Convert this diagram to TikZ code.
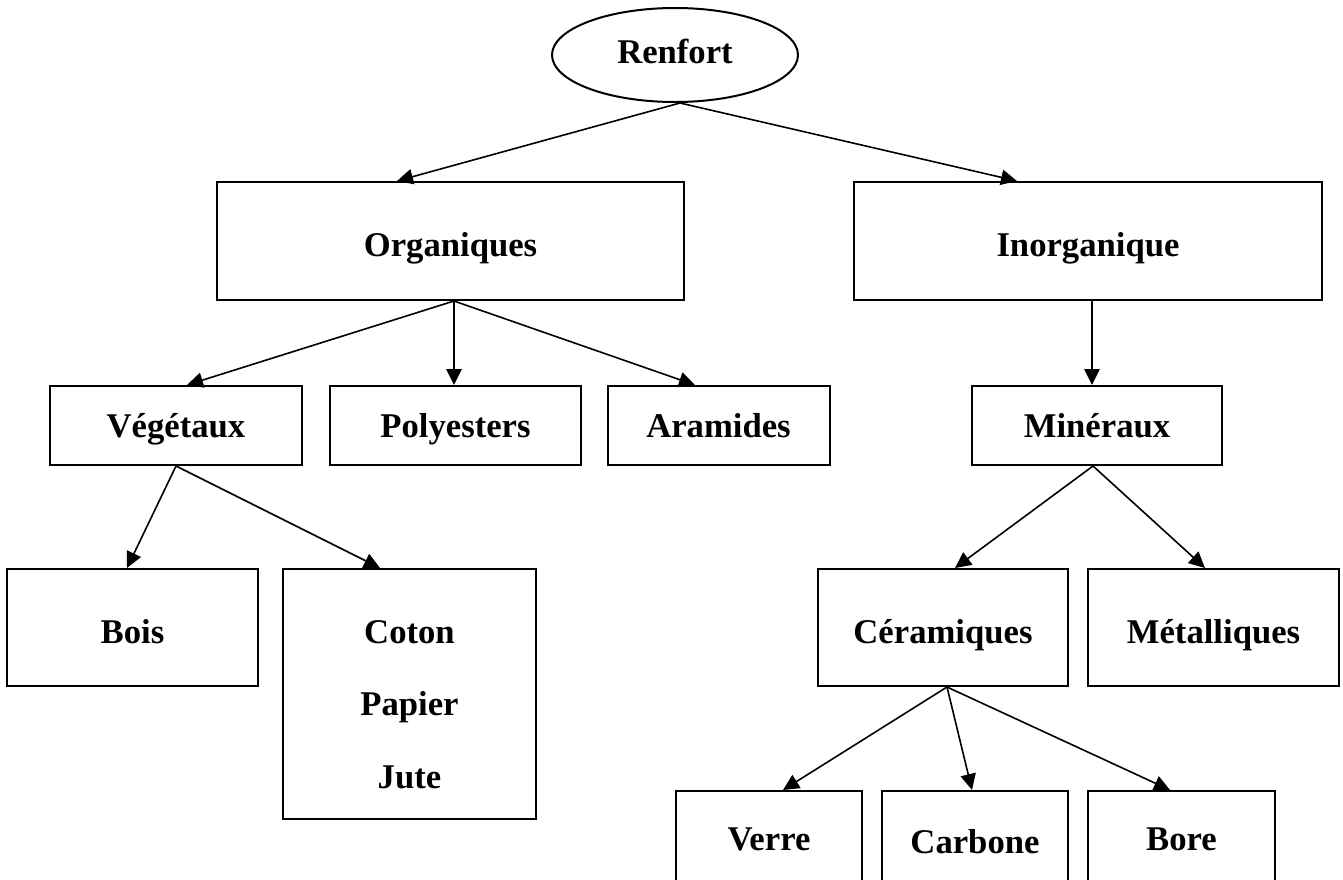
\documentclass[tikz,border=0pt]{standalone}
\usepackage{fontspec}
\setmainfont{Liberation Serif}
\usetikzlibrary{shapes.geometric,arrows.meta}
\begin{document}
\begin{tikzpicture}[x=0.75pt,y=-0.75pt,
  every node/.style={font=\fontsize{26}{54.4}\selectfont\bfseries, inner sep=0pt, text depth=0pt},
  box/.style={draw, line width=1.5pt, rectangle},
  oval/.style={draw, line width=1.5pt, ellipse},
  arr/.style={line width=1.2pt, -{Triangle[length=12pt,width=11.5pt]}}]
% page frame
\useasboundingbox (0,0) rectangle (1343,879);
\clip (0,0) rectangle (1343,879);

% root
\node[oval, minimum width=246*0.75pt, minimum height=94*0.75pt, text height=12pt] (ren) at (675,55) {Renfort};

% first level
\node[box, minimum width=467*0.75pt, minimum height=118*0.75pt, text height=22.5pt] (org) at (450.5,241) {Organiques};
\node[box, minimum width=468*0.75pt, minimum height=118*0.75pt, text height=22.5pt] (ino) at (1088,241) {Inorganique};

% second level
\node[box, minimum width=252*0.75pt, minimum height=79*0.75pt, text height=17.25pt] (veg) at (176,425.5) {Végétaux};
\node[box, minimum width=251*0.75pt, minimum height=79*0.75pt, text height=17.25pt] (pol) at (455.5,425.5) {Polyesters};
\node[box, minimum width=222*0.75pt, minimum height=79*0.75pt, text height=17.25pt] (ara) at (718.5,425.5) {Aramides};
\node[box, minimum width=250*0.75pt, minimum height=79*0.75pt, text height=17.25pt] (min) at (1097,425.5) {Minéraux};

% third level
\node[box, minimum width=251*0.75pt, minimum height=117*0.75pt, text height=23.25pt] (boi) at (132.5,627.5) {Bois};
\node[box, minimum width=253*0.75pt, minimum height=250*0.75pt, text height=0pt, text depth=76.5pt] (cot) at (409.5,694)
  {\begin{tabular}[t]{@{}c@{}}Coton\\Papier\\Jute\end{tabular}};
\node[box, minimum width=250*0.75pt, minimum height=117*0.75pt, text height=23.25pt] (cer) at (943,627.5) {Céramiques};
\node[box, minimum width=251*0.75pt, minimum height=117*0.75pt, text height=23.25pt] (met) at (1213.5,627.5) {Métalliques};

% fourth level (boxes run past the lower edge)
\node[box, minimum width=186*0.75pt, minimum height=100*0.75pt, text height=13.5pt] (ver) at (769,841) {Verre};
\node[box, minimum width=186*0.75pt, minimum height=100*0.75pt, text height=18pt] (car) at (975,841) {Carbone};
\node[box, minimum width=187*0.75pt, minimum height=100*0.75pt, text height=13.5pt] (bor) at (1181.5,841) {Bore};

% connectors
\draw[arr] ([xshift=5*0.75pt]ren.south) -- ([xshift=-53.5*0.75pt]org.north);
\draw[arr] ([xshift=5*0.75pt]ren.south) -- ([xshift=-71*0.75pt]ino.north);
\draw[arr] ([xshift=3.5*0.75pt]org.south) -- ([xshift=11*0.75pt]veg.north);
\draw[arr] ([xshift=3.5*0.75pt]org.south) -- ([xshift=-1.5*0.75pt]pol.north);
\draw[arr] ([xshift=3.5*0.75pt]org.south) -- ([xshift=-23.5*0.75pt]ara.north);
\draw[arr] ([xshift=4*0.75pt]ino.south) -- ([xshift=-5*0.75pt]min.north);
\draw[arr] (veg.south) -- ([xshift=-5.5*0.75pt]boi.north);
\draw[arr] (veg.south) -- ([xshift=-29.5*0.75pt]cot.north);
\draw[arr] ([xshift=-4*0.75pt]min.south) -- ([xshift=12*0.75pt]cer.north);
\draw[arr] ([xshift=-4*0.75pt]min.south) -- ([xshift=-8.5*0.75pt]met.north);
\draw[arr] ([xshift=4*0.75pt]cer.south) -- ([xshift=14*0.75pt]ver.north);
\draw[arr] ([xshift=4*0.75pt]cer.south) -- ([xshift=-3*0.75pt]car.north);
\draw[arr] ([xshift=4*0.75pt]cer.south) -- ([xshift=-11.5*0.75pt]bor.north);
\end{tikzpicture}
\end{document}
